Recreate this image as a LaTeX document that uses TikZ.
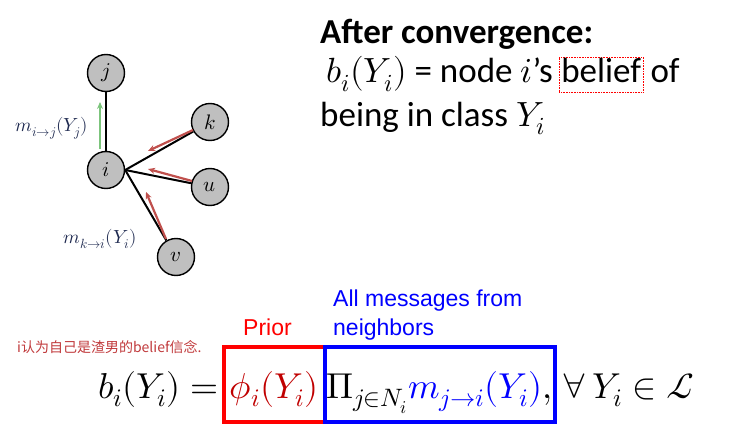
\documentclass[tikz,border=0pt]{standalone}
\usepackage{fontspec}
\usepackage{unicode-math}
\setmainfont{Carlito}
\newfontfamily\arialf{Liberation Sans}
\newfontfamily\cjk{Noto Sans CJK SC}
\usetikzlibrary{arrows.meta}
\definecolor{nodegray}{HTML}{BFBFBF}
\definecolor{msgred}{HTML}{C0504D}
\definecolor{msggreen}{HTML}{7CC47C}
\definecolor{labnavy}{HTML}{1F2A50}
\definecolor{phired}{HTML}{C00000}
\definecolor{noteRed}{HTML}{C0393B}
\tikzset{
  gnode/.style={circle, draw=black, line width=1.4pt, fill=nodegray, minimum size=37pt, inner sep=0pt, font=\fontsize{21}{24}\selectfont},
  edge/.style={draw=black, line width=2pt},
  redmsg/.style={draw=msgred, line width=2.2pt, -{Stealth[length=7pt,width=6pt]}},
  greenmsg/.style={draw=msggreen, line width=2.2pt, -{Stealth[length=7pt,width=6pt]}},
  msglabel/.style={text=labnavy, inner sep=0pt, font=\fontsize{19}{22}\selectfont},
  bigtext/.style={anchor=base west, inner sep=0pt, font=\fontsize{35}{40}\selectfont},
  eqtext/.style={anchor=base, inner sep=0pt, font=\fontsize{36}{42}\selectfont},
  annot/.style={anchor=base west, inner sep=0pt, font=\arialf\fontsize{23}{27}\selectfont}
}
\begin{document}
\begin{tikzpicture}[x=1pt,y=-1pt]
\useasboundingbox (0,0) rectangle (731,436);

% graph
\node[gnode] (j) at (106,73) {$j$};
\node[gnode] (i) at (106,170) {$i$};
\node[gnode] (k) at (210,122) {$k$};
\node[gnode] (u) at (210,187) {$u$};
\node[gnode] (v) at (176,257) {$v$};

\draw[edge] (i.north) -- (j.south);
\draw[edge] (i.east) -- (k);
\draw[edge] (i.east) -- (u);
\draw[edge] (i.east) -- (v);

\coordinate (g1) at (100,149);
\coordinate (g2) at (100,102);
\coordinate (rk1) at (193,130);
\coordinate (rk2) at (148,151);
\coordinate (ru1) at (192,181);
\coordinate (ru2) at (148,169);
\coordinate (rv1) at (166,239);
\coordinate (rv2) at (146,192);
\draw[greenmsg] (g1) -- (g2);
\draw[redmsg] (rk1) -- (rk2);
\draw[redmsg] (ru1) -- (ru2);
\draw[redmsg] (rv1) -- (rv2);

\node[msglabel] (lij) at (52,128) {$m_{i\to j}(Y_j)$};
\node[msglabel] (lki) at (100,239) {$m_{k\to i}(Y_i)$};

% right text
\node[bigtext, font=\bfseries\fontsize{35}{40}\selectfont] (t1) at (320,44) {After convergence:};
\node[bigtext] (t2) at (326,83) {$b_i(Y_i)$ = node $i$’s};
\node[bigtext, inner xsep=2pt, text depth=9pt, text height=26pt, draw=red, line width=0.6pt, densely dotted] (bel) at ([xshift=6pt]t2.base east) {belief};
\node[bigtext] (t2b) at ([xshift=7pt]bel.base east) {of};
\node[bigtext] (t3) at (320,126) {being in class $Y_i$};

% annotation
\node[anchor=west, inner sep=0pt, text=noteRed, font=\cjk\fontsize{14}{16}\selectfont] (note) at (17,347) {i认为自己是渣男的belief信念.};

% labels
\node[annot, text=blue] (all1) at (333,306) {All messages from};
\node[annot, text=blue] (all2) at (333,335) {neighbors};
\node[annot, text=red] (prior) at (243,335) {Prior};

% boxes
\draw[red, line width=4pt] (224,347) rectangle (325,422);
\draw[blue, line width=4pt] (325,347) rectangle (555,422);

% equation
\node[eqtext, anchor=base east] (lhs) at (219,398) {$b_i(Y_i) =$};
\node[eqtext, text=phired] (phi) at (274,398) {$\phi_i(Y_i)$};
\node[eqtext, anchor=base west] (prod) at (326,398) {$\Pi_{j\in N_i}\textcolor{blue}{m_{j\to i}(Y_i)},$};
\node[eqtext, anchor=base west] (fa) at (562,398) {$\forall\, Y_i \in \mathcal{L}$};
\end{tikzpicture}
\end{document}
